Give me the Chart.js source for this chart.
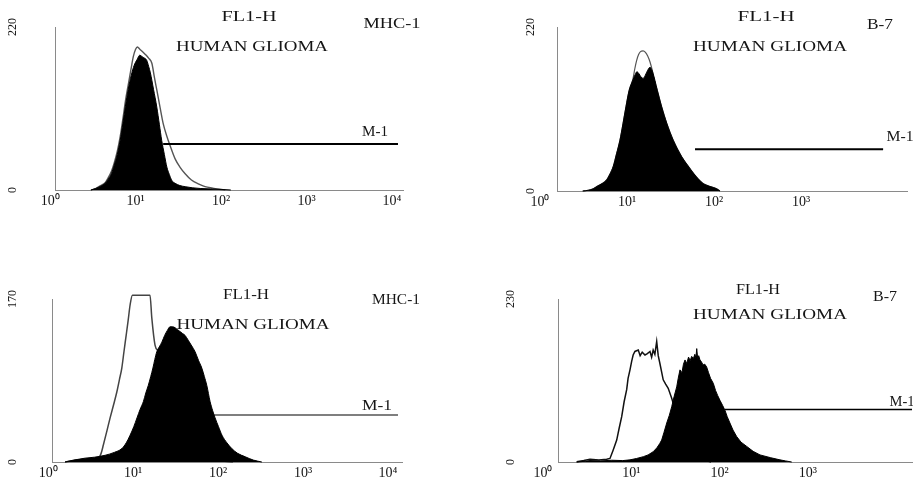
<!DOCTYPE html>
<html>
<head>
<meta charset="utf-8">
<title>FL1-H / Human glioma histograms</title>
<script src="https://cdn.jsdelivr.net/npm/chart.js@4.4.1/dist/chart.umd.min.js"></script>
<style>
    html, body { margin: 0; padding: 0; background: #fff; }
    #stage { position: relative; width: 913px; height: 489px; overflow: hidden; }
    #stage canvas { position: absolute; left: 0; top: 0; }
</style>
</head>
<body>
<div id="stage">
    <canvas id="panel-1" width="913" height="489"></canvas>
    <canvas id="panel-2" width="913" height="489"></canvas>
    <canvas id="panel-3" width="913" height="489"></canvas>
    <canvas id="panel-4" width="913" height="489"></canvas>
</div>
<script>
/**
 * Flow cytometry histograms (FL1-H, human glioma)
 */

// Axis labels
const decadeValues = [1, 10, 100, 1000, 10000];
const decadeLabels = ['10⁰', '10¹', '10²', '10³', '10⁴'];
const yTopValues = [220, 220, 170, 230];

// Texts
const channelTitle = 'FL1-H';
const sampleTitle = 'HUMAN GLIOMA';
const markerTags = ['MHC-1', 'B-7', 'MHC-1', 'B-7'];
const markerName = 'M-1';

// M-1 gate (start channel, end channel, drawn height)
const markerFrom = [21, 60.5, 87.3, 115];
const markerTo = [11750, 8770, 13100, 15100];
const markerLevel = [62, 56, 49, 74];

// Top-left, MHC-1: stained (filled) and control (open)
const mhcTopStainedX = [3.0, 3.4, 3.9, 4.4, 4.8, 5.2, 5.6, 6.1, 6.6, 7.1, 7.6, 8.2, 8.9, 9.6, 10.4, 11.2, 11.9, 12.7, 13.5, 14.2, 14.9, 16.2, 17.7, 19.0, 20.2, 21.7, 23.2, 24.8, 26.5, 29, 33, 38, 46, 58, 75, 100, 130];
const mhcTopStainedY = [0, 2, 5, 9, 15, 22, 33, 48, 67, 90, 113, 136, 155, 168, 176, 182, 180, 178, 175, 167, 158, 136, 112, 88, 67, 48, 31, 21, 13, 9, 6, 4.5, 3, 2, 1.5, 0.8, 0];
const mhcTopControlX = [3.0, 3.4, 3.9, 4.4, 4.8, 5.2, 5.6, 6.1, 6.6, 7.1, 7.6, 8.2, 8.8, 9.4, 10.0, 10.5, 11.2, 12.0, 13.0, 14.2, 15.5, 16.6, 17.7, 19.3, 21.0, 23.0, 25.3, 29, 33, 38, 45, 55, 65, 80, 95, 112];
const mhcTopControlY = [0, 2, 6, 10, 17, 25, 36, 52, 72, 96, 120, 142, 162, 180, 190, 193, 190, 187, 183, 178, 171, 152, 135, 112, 90, 74, 60, 42, 31, 22, 13.5, 8, 4.5, 2.5, 1, 0];

// Top-right, B-7
const b7TopStainedX = [3.1, 3.6, 4.1, 4.5, 5.2, 5.85, 6.4, 6.96, 7.6, 8.3, 9.0, 9.74, 10.6, 11.7, 12.4, 13.0, 13.8, 14.5, 15.3, 16.2, 17.3, 18.4, 19.2, 19.9, 21.0, 22.3, 25.0, 28.6, 34.0, 42.5, 50, 57.8, 66, 74.8, 90, 107, 117];
const b7TopStainedY = [0, 1, 3, 6, 10, 15, 23, 33, 50, 68, 90, 113, 135, 149, 156, 160, 157, 153, 151, 155, 162, 166, 163, 158, 148, 135, 113, 91, 68, 46, 34, 24, 16, 10, 6, 3, 0];
const b7TopControlX = [3.1, 3.6, 4.1, 4.5, 5.2, 5.85, 6.4, 6.96, 7.6, 8.3, 9.0, 9.74, 10.6, 11.7, 12.3, 12.9, 13.6, 14.3, 15.3, 16.3, 17.3, 18.4, 19.5, 20.5, 22.3, 25.0, 28.6, 34.0, 42.5, 50, 57.8, 66, 74.8, 90, 107, 117];
const b7TopControlY = [0, 1, 3, 6, 10, 15, 23, 33, 50, 68, 90, 113, 135, 150, 164, 175, 183, 187, 188, 186, 181, 173, 162, 150, 135, 113, 91, 68, 46, 34, 24, 16, 10, 6, 3, 0];

// Bottom-left, MHC-1
const mhcBottomStainedX = [1.58, 2.0, 2.72, 3.5, 4.68, 6.0, 7.36, 8.3, 9.22, 10.2, 11.1, 12.1, 13.2, 14.1, 15.1, 16.1, 17.1, 18.0, 19.0, 20.3, 21.8, 23.5, 25.2, 27.2, 29.2, 31.2, 33.4, 35.7, 38.2, 40.9, 44.5, 49, 53.6, 58.8, 64.3, 69, 73.6, 80.5, 86, 92.2, 101, 111, 127, 145, 170, 208, 260, 327];
const mhcBottomStainedY = [0, 2, 4, 5, 7, 10, 14, 20, 28, 37, 46, 55, 63, 72, 80, 89, 98, 107, 115, 120, 125, 132, 137, 141, 141, 140, 138, 136, 134, 132, 127, 121, 115, 106, 98, 89, 80, 63, 54, 46, 37, 28, 20, 14, 9, 5.5, 2, 0];
const mhcBottomControlX = [1.58, 2.2, 3.0, 3.5, 3.9, 4.2, 4.47, 4.9, 5.36, 5.9, 6.43, 6.9, 7.36, 7.8, 8.28, 8.75, 9.22, 9.81, 11, 12.5, 14, 15.8, 16.6, 18.1, 20, 23, 28, 35, 45, 60, 80, 110, 150];
const mhcBottomControlY = [0, 2, 3, 3.5, 4, 9, 18, 32, 46, 60, 73, 86, 98, 115, 132, 148, 164, 174, 174, 174, 174, 174, 150, 122, 115, 100, 70, 40, 20, 8, 3, 1, 0];

// Bottom-right, B-7
const b7BottomStainedX = [2.4, 3.0, 3.41, 4.5, 6, 8, 9.67, 11.5, 13.7, 15.5, 17.7, 19.5, 21, 22.1, 23.5, 25.2, 27, 28.7, 30.5, 32.7, 34, 35.6, 37.5, 39, 40.6, 42.5, 44.5, 46.5, 48.3, 50.5, 52.5, 54, 55.1, 56.5, 58, 60, 62.5, 65, 68, 71.4, 75, 79, 84.9, 90, 95, 101, 108, 115, 122, 131, 142, 156, 175, 203, 240, 287, 380, 483, 560, 656];
const b7BottomStainedY = [0, 1, 2, 1.5, 2.5, 2, 3, 5, 7.5, 10, 14.5, 20, 26, 31, 42, 55, 66, 78, 92, 106, 118, 130, 126, 138, 144, 139, 148, 143, 149, 146, 152, 147, 160, 146, 150, 144, 141, 137, 138, 134, 126, 118, 111, 101, 94, 87, 80, 73, 64, 55, 45, 36, 28, 22, 15, 10, 6, 3, 1.5, 0];
const b7BottomControlX = [2.41, 2.9, 3.41, 4.3, 5.26, 5.74, 6.2, 6.84, 7.3, 7.79, 8.3, 8.87, 9.2, 9.67, 10.1, 10.5, 11.0, 12.0, 12.6, 13.3, 14.3, 15.2, 16.3, 17.0, 17.7, 18.5, 19.4, 20.2, 21.1, 23.0, 24.5, 26.2, 28.7, 32, 38, 48, 60, 80];
const b7BottomControlY = [0.5, 2, 4, 3, 4, 5, 16, 31, 48, 64, 85, 102, 118, 130, 142, 151, 156, 158, 150, 155, 151, 153, 156, 148, 158, 152, 170, 150, 139, 116, 110, 104, 90, 70, 40, 15, 5, 0];

const serif = "'Liberation Serif', 'Times New Roman', serif";

// Layout of each panel on the page
const panels = [
    {
        id: 'panel-1', stained: [mhcTopStainedX, mhcTopStainedY], control: [mhcTopControlX, mhcTopControlY],
        area: { left: 55, top: 27, right: 403, bottom: 190 }, yAxisWidth: 55, yLabelPad: 33,
        xMin: 1.14, xMax: 13450, decades: 5, smooth: true,
        controlColor: '#555', controlWidth: 1.4, markerWidth: 2,
        texts: [
            { t: channelTitle, x: 249, y: 17, w: 55, size: 14 },
            { t: markerTags[0], x: 392, y: 24, w: 57, size: 14 },
            { t: sampleTitle, x: 252, y: 47, w: 152, size: 15 },
            { t: markerName, x: 375, y: 132, w: 26, size: 14 }
        ]
    },
    {
        id: 'panel-2', stained: [b7TopStainedX, b7TopStainedY], control: [b7TopControlX, b7TopControlY],
        area: { left: 557, top: 27, right: 907, bottom: 191 }, yAxisWidth: 60, yLabelPad: 17,
        xMin: 1.57, xMax: 16500, decades: 4, smooth: true,
        controlColor: '#555', controlWidth: 1.2, markerWidth: 2,
        texts: [
            { t: channelTitle, x: 766, y: 17, w: 57, size: 14 },
            { t: markerTags[1], x: 880, y: 25, w: 26, size: 14 },
            { t: sampleTitle, x: 770, y: 47, w: 154, size: 15 },
            { t: markerName, x: 900, y: 137, w: 27, size: 14 }
        ]
    },
    {
        id: 'panel-3', stained: [mhcBottomStainedX, mhcBottomStainedY], control: [mhcBottomControlX, mhcBottomControlY],
        area: { left: 52, top: 299, right: 402, bottom: 462 }, yAxisWidth: 52, yLabelPad: 30,
        xMin: 1.11, xMax: 14600, decades: 5, smooth: true,
        controlColor: '#444', controlWidth: 1.5, markerWidth: 1.2,
        texts: [
            { t: channelTitle, x: 246, y: 295, w: 46, size: 14 },
            { t: markerTags[2], x: 396, y: 300, w: 48, size: 14 },
            { t: sampleTitle, x: 253, y: 325, w: 153, size: 15 },
            { t: markerName, x: 377, y: 406, w: 30, size: 14 }
        ]
    },
    {
        id: 'panel-4', stained: [b7BottomStainedX, b7BottomStainedY], control: [b7BottomControlX, b7BottomControlY],
        area: { left: 558, top: 299, right: 912, bottom: 462 }, yAxisWidth: 60, yLabelPad: 38,
        xMin: 1.48, xMax: 15100, decades: 4, smooth: false,
        controlColor: '#111', controlWidth: 1.5, markerWidth: 1.5,
        texts: [
            { t: channelTitle, x: 758, y: 290, w: 44, size: 14 },
            { t: markerTags[3], x: 885, y: 297, w: 24, size: 14 },
            { t: sampleTitle, x: 770, y: 315, w: 154, size: 15 },
            { t: markerName, x: 902, y: 402, w: 25, size: 14 }
        ]
    }
];

const X_AXIS_HEIGHT = 24;

// Draws the stretched serif captions of a panel
const captionPlugin = {
    id: 'captions',
    afterDraw(chart, args, opts) {
        const ctx = chart.ctx;
        (opts.texts || []).forEach(item => {
            ctx.save();
            ctx.font = `${item.size}px ${serif}`;
            ctx.fillStyle = '#151515';
            ctx.textAlign = 'center';
            ctx.textBaseline = 'middle';
            const natural = ctx.measureText(item.t).width;
            ctx.translate(item.x, item.y);
            ctx.scale(item.w / natural, 1);
            ctx.fillText(item.t, 0, 0);
            ctx.restore();
        });
    }
};

const toPoints = (xs, ys) => xs.map((x, i) => ({ x: x, y: ys[i] }));

panels.forEach((p, i) => {
    const canvas = document.getElementById(p.id);
    const ctx = canvas.getContext('2d');
    const curve = p.smooth ? { cubicInterpolationMode: 'monotone' } : { tension: 0 };

    new Chart(ctx, {
        type: 'line',
        data: {
            datasets: [
                {
                    label: markerName,
                    data: [{ x: markerFrom[i], y: markerLevel[i] }, { x: markerTo[i], y: markerLevel[i] }],
                    borderColor: '#000',
                    borderWidth: p.markerWidth,
                    pointRadius: 0,
                    fill: false,
                    clip: false
                },
                {
                    label: 'stained',
                    data: toPoints(p.stained[0], p.stained[1]),
                    borderColor: '#000',
                    backgroundColor: '#000',
                    borderWidth: 1,
                    pointRadius: 0,
                    fill: 'origin',
                    clip: false,
                    ...curve
                },
                {
                    label: 'control',
                    data: toPoints(p.control[0], p.control[1]),
                    borderColor: p.controlColor,
                    borderWidth: p.controlWidth,
                    pointRadius: 0,
                    fill: false,
                    clip: false,
                    ...curve
                }
            ]
        },
        options: {
            responsive: false,
            animation: false,
            events: [],
            layout: {
                padding: {
                    left: p.area.left - p.yAxisWidth,
                    top: p.area.top,
                    right: 913 - p.area.right,
                    bottom: 489 - p.area.bottom - X_AXIS_HEIGHT
                }
            },
            plugins: {
                legend: { display: false },
                tooltip: { enabled: false },
                captions: { texts: p.texts }
            },
            scales: {
                x: {
                    type: 'logarithmic',
                    min: p.xMin,
                    max: p.xMax,
                    grid: { display: false, drawTicks: false },
                    border: { display: true, color: '#8a8a8a', width: 1 },
                    afterBuildTicks: scale => {
                        scale.ticks = decadeValues.slice(0, p.decades).map(v => ({ value: v }));
                    },
                    afterFit: scale => {
                        scale.height = X_AXIS_HEIGHT;
                        scale.paddingLeft = 0;
                        scale.paddingRight = 0;
                    },
                    ticks: {
                        autoSkip: false,
                        maxRotation: 0,
                        padding: 3,
                        color: '#151515',
                        font: { family: serif, size: 14 },
                        callback: (value, index) => decadeLabels[index]
                    }
                },
                y: {
                    type: 'linear',
                    min: 0,
                    max: yTopValues[i],
                    grid: { display: false, drawTicks: false },
                    border: { display: true, color: '#8a8a8a', width: 1 },
                    afterBuildTicks: scale => {
                        scale.ticks = [{ value: 0 }, { value: yTopValues[i] }];
                    },
                    afterFit: scale => {
                        scale.width = p.yAxisWidth;
                        scale.paddingTop = 0;
                        scale.paddingBottom = 0;
                    },
                    ticks: {
                        minRotation: 90,
                        maxRotation: 90,
                        crossAlign: 'center',
                        padding: p.yLabelPad,
                        color: '#151515',
                        font: { family: serif, size: 12 }
                    }
                }
            }
        },
        plugins: [captionPlugin]
    });
});
</script>
</body>
</html>
